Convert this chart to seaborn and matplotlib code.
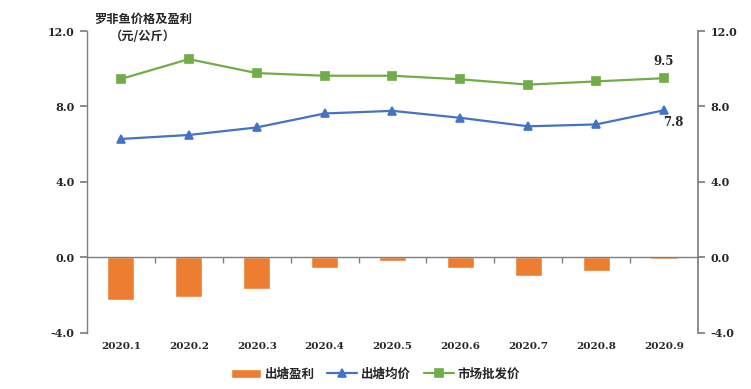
import numpy as np
import pandas as pd
import seaborn as sns
import matplotlib.pyplot as plt

# data
months = ["2020.1", "2020.2", "2020.3", "2020.4", "2020.5", "2020.6", "2020.7", "2020.8", "2020.9"]
profit = [-2.26, -2.07, -1.68, -0.58, -0.18, -0.54, -1.00, -0.72, -0.06]      # 出塘盈利
pond_price = [6.28, 6.49, 6.89, 7.63, 7.77, 7.40, 6.95, 7.05, 7.80]          # 出塘均价
market_price = [9.46, 10.51, 9.77, 9.63, 9.63, 9.44, 9.16, 9.33, 9.50]       # 市场批发价
yticks = [-4, 0, 4, 8, 12]

df = pd.DataFrame({"month": months, "profit": profit,
                   "pond": pond_price, "market": market_price})

sns.set_theme(style="white")
plt.rcParams["font.family"] = ["Noto Sans CJK SC", "DejaVu Sans"]

orange = "#ED7D31"
blue = "#4472C4"
green = "#70AD47"
gray = "#7f7f7f"
num_font = ["DejaVu Serif", "Noto Sans CJK SC"]

fig = plt.figure(figsize=(7.51, 3.89), dpi=100)
ax = fig.add_axes([0.1158, 0.144, 0.8136, 0.7763])

sns.barplot(data=df, x="month", y="profit", color=orange, width=0.4,
            saturation=1, ax=ax, label="出塘盈利")
sns.pointplot(data=df, x="month", y="pond", color=blue, markers="^",
              linewidth=1.6, markersize=5.5, ax=ax, label="出塘均价")
sns.pointplot(data=df, x="month", y="market", color=green, markers="s",
              linewidth=1.6, markersize=5.5, ax=ax, label="市场批发价")

ax.set_ylim(-4, 12)
ax.set_xlim(-0.5, len(months) - 0.5)
ax.set_yticks(yticks)
ax.set_yticklabels([f"{v:.1f}" for v in yticks], family=num_font,
                   fontweight="bold", fontsize=8)
ax.set_xlabel("")
ax.set_ylabel("")

# category axis sits on zero, labels below the plot
ax.spines["top"].set_visible(False)
ax.spines["right"].set_visible(False)
ax.spines["bottom"].set_position(("data", 0))
for s in ["left", "bottom"]:
    ax.spines[s].set_color(gray)
    ax.spines[s].set_linewidth(1)
ax.set_xticks(np.arange(len(months)))
ax.set_xticklabels(months, family=num_font, fontweight="bold", fontsize=7.5)
ax.set_xticks(np.arange(len(months) - 1) + 0.5, minor=True)
ax.tick_params(axis="x", which="major", length=0, pad=61)
ax.tick_params(axis="x", which="minor", length=4, color=gray, direction="out", bottom=True)
ax.tick_params(axis="y", length=5, color=gray, direction="out", left=True, pad=4)

# right axis mirrors the left
ax2 = ax.twinx()
ax2.set_ylim(ax.get_ylim())
ax2.set_yticks(yticks)
ax2.set_yticklabels([f"{v:.1f}" for v in yticks], family=num_font,
                    fontweight="bold", fontsize=8)
for s in ["top", "left", "bottom"]:
    ax2.spines[s].set_visible(False)
ax2.spines["right"].set_color(gray)
ax2.tick_params(axis="y", length=5, color=gray, direction="out", right=True, pad=4)
ax2.grid(False)

# value labels on last points
ax.annotate(f"{market_price[-1]:.1f}", (len(months) - 1, market_price[-1]),
            xytext=(0, 7), textcoords="offset points", ha="center", va="bottom",
            family=num_font, fontweight="bold", fontsize=8.5)
ax.annotate(f"{pond_price[-1]:.1f}", (len(months) - 1, pond_price[-1]),
            xytext=(7, -4), textcoords="offset points", ha="center", va="top",
            family=num_font, fontweight="bold", fontsize=8.5)

# unit title
ax.text(0.092, 1.06, "罗非鱼价格及盈利\n（元/公斤）", transform=ax.transAxes,
        ha="center", va="top", fontsize=8.8, fontweight="bold",
        linespacing=1.45, multialignment="center")

handles, labels = ax.get_legend_handles_labels()
if ax.get_legend() is not None:
    ax.get_legend().remove()
order = [labels.index(n) for n in ["出塘盈利", "出塘均价", "市场批发价"]]
fig.legend([handles[i] for i in order], [labels[i] for i in order],
           loc="lower center", bbox_to_anchor=(0.5, -0.008),
           ncol=3, frameon=False, handlelength=2.4,
           columnspacing=1.0, handletextpad=0.3, prop={"weight": "bold", "size": 9})

plt.savefig("out.png", dpi=100)
